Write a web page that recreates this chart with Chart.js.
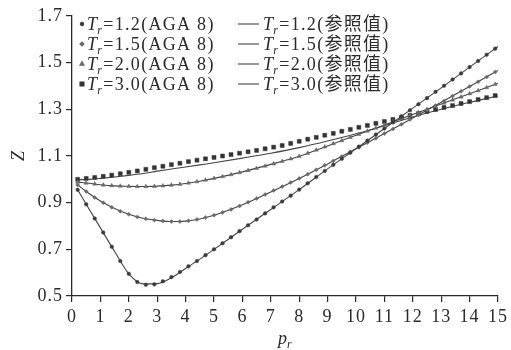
<!DOCTYPE html>
<html>
<head>
<meta charset="utf-8">
<script src="https://cdn.jsdelivr.net/npm/chart.js@4.4.1/dist/chart.umd.min.js"></script>
<style>
html,body{margin:0;padding:0;background:#fff;}
canvas{display:block;}
</style>
</head>
<body>
<canvas id="grafica" width="511" height="350"></canvas>
<script>
// p_r de los puntos AGA 8
const presion = [0.2,0.5,0.8,1.1,1.4,1.7,2.0,2.3,2.6,2.9,3.2,3.5,3.8,4.1,4.4,4.7,5.0,5.3,5.6,5.9,
  6.2,6.5,6.8,7.1,7.4,7.7,8.0,8.3,8.6,8.9,9.2,9.5,9.8,10.1,10.4,10.7,11.0,11.3,11.6,11.9,
  12.2,12.5,12.8,13.1,13.4,13.7,14.0,14.3,14.6,14.9];
const zAga12 = [0.955,0.893,0.832,0.772,0.711,0.650,0.595,0.560,0.548,0.550,0.563,0.581,0.603,0.627,0.650,0.675,0.700,0.726,0.752,0.778,
  0.803,0.828,0.854,0.880,0.905,0.930,0.956,0.983,1.010,1.036,1.062,1.088,1.114,1.140,1.166,1.192,1.218,1.244,1.270,1.296,
  1.322,1.348,1.375,1.401,1.428,1.454,1.481,1.507,1.534,1.560];
const zAga15 = [0.976,0.948,0.922,0.900,0.880,0.863,0.850,0.839,0.831,0.825,0.821,0.819,0.819,0.822,0.828,0.836,0.846,0.858,0.871,0.886,
  0.902,0.918,0.935,0.952,0.969,0.986,1.004,1.022,1.041,1.060,1.079,1.098,1.118,1.137,1.157,1.176,1.196,1.216,1.236,1.256,
  1.276,1.296,1.316,1.336,1.357,1.377,1.398,1.418,1.439,1.460];
const zAga20 = [0.988,0.984,0.980,0.976,0.973,0.971,0.970,0.969,0.969,0.970,0.972,0.975,0.979,0.984,0.990,0.997,1.004,1.012,1.020,1.029,
  1.038,1.047,1.057,1.067,1.077,1.088,1.099,1.112,1.126,1.139,1.153,1.166,1.180,1.193,1.207,1.220,1.233,1.247,1.260,1.273,
  1.287,1.300,1.313,1.327,1.340,1.353,1.367,1.380,1.393,1.407];
const zAga30 = [1.000,1.004,1.008,1.013,1.018,1.024,1.030,1.036,1.043,1.050,1.056,1.063,1.069,1.076,1.082,1.088,1.094,1.100,1.106,1.112,
  1.118,1.124,1.131,1.138,1.145,1.154,1.163,1.172,1.180,1.189,1.197,1.206,1.214,1.223,1.231,1.240,1.248,1.257,1.265,1.274,
  1.282,1.291,1.299,1.308,1.316,1.325,1.333,1.342,1.350,1.359];

// curvas de referencia (参照值)
const presionRef = [0.2,0.6,1,1.5,2,2.5,3,3.5,4,4.5,5,6,7,8,9,10,11,12,13,14,15];
const zRef12 = [0.955,0.873,0.792,0.691,0.595,0.552,0.553,0.578,0.618,0.658,0.700,0.786,0.871,0.956,1.045,1.131,1.218,1.305,1.392,1.481,1.569];
const zRef15 = [0.976,0.939,0.907,0.875,0.850,0.833,0.824,0.819,0.821,0.830,0.846,0.891,0.946,1.004,1.066,1.131,1.196,1.263,1.330,1.398,1.467];
const zRef20 = [0.988,0.983,0.977,0.972,0.970,0.969,0.971,0.975,0.982,0.992,1.004,1.032,1.064,1.099,1.143,1.189,1.233,1.278,1.323,1.367,1.412];
const zRef30 = [0.998,1.000,1.004,1.010,1.017,1.025,1.035,1.044,1.053,1.062,1.071,1.091,1.112,1.136,1.164,1.195,1.230,1.267,1.300,1.330,1.357];

const temperaturas = ['1.2','1.5','2.0','3.0'];
const xTicks = [0,1,2,3,4,5,6,7,8,9,10,11,12,13,14,15];
const yTicks = [0.5,0.7,0.9,1.1,1.3,1.5,1.7];

const fuente = '"Liberation Serif", "Times New Roman", serif';
const fuenteCJK = '"Liberation Serif", "Noto Sans CJK SC", serif';
const tinta = '#2a2a2a';

function puntos(xs, ys) {
  return xs.map(function (x, i) { return { x: x, y: ys[i] }; });
}

const marcas = [
  { datos: zAga12, estilo: 'circle', radio: 1.8, color: '#3a3a3a' },
  { datos: zAga15, estilo: 'rectRot', radio: 2.0, color: '#6a6a6a' },
  { datos: zAga20, estilo: 'triangle', radio: 2.4, color: '#6a6a6a' },
  { datos: zAga30, estilo: 'rect', radio: 2.8, color: '#333333' }
];
const lineas = [zRef12, zRef15, zRef20, zRef30];

const datasets = [];
marcas.forEach(function (m) {
  datasets.push({
    data: puntos(presion, m.datos),
    showLine: false,
    pointStyle: m.estilo,
    pointRadius: m.radio,
    pointBackgroundColor: m.color,
    pointBorderColor: m.color,
    pointBorderWidth: 0.5
  });
});
lineas.forEach(function (z) {
  datasets.push({
    data: puntos(presionRef, z),
    showLine: true,
    borderColor: '#444',
    borderWidth: 1.1,
    pointRadius: 0,
    cubicInterpolationMode: 'monotone'
  });
});

function textoTr(ctx, x, y, valor, resto) {
  ctx.textAlign = 'left';
  ctx.textBaseline = 'alphabetic';
  ctx.font = 'italic 18px ' + fuente;
  ctx.fillText('T', x, y);
  x += ctx.measureText('T').width - 1;
  ctx.font = 'italic 12px ' + fuente;
  ctx.fillText('r', x, y + 4);
  x += ctx.measureText('r').width;
  ctx.font = '18px ' + fuenteCJK;
  ctx.fillText('=' + valor + resto, x, y);
}

const leyendaYTitulos = {
  id: 'leyendaYTitulos',
  beforeDraw: function (chart) {
    // numeros de los ejes algo espaciados, como en la figura
    chart.ctx.letterSpacing = '1px';
  },
  afterDraw: function (chart) {
    const ctx = chart.ctx;
    ctx.save();
    ctx.fillStyle = tinta;
    ctx.strokeStyle = tinta;
    ctx.letterSpacing = '1.3px';
    temperaturas.forEach(function (t, i) {
      const base = 30 + i * 20;
      const m = marcas[i];
      ctx.fillStyle = m.color;
      ctx.strokeStyle = m.color;
      Chart.helpers.drawPoint(ctx, { pointStyle: m.estilo, radius: m.radio, rotation: 0, borderWidth: 0.5 }, 82, base - 6);
      ctx.fillStyle = tinta;
      textoTr(ctx, 87, base, t, '(AGA 8)');
      ctx.strokeStyle = '#444';
      ctx.lineWidth = 1.1;
      ctx.beginPath();
      ctx.moveTo(238, base - 6);
      ctx.lineTo(259, base - 6);
      ctx.stroke();
      textoTr(ctx, 263, base, t, '(参照值)');
    });
    // titulos de ejes
    ctx.letterSpacing = '0px';
    ctx.fillStyle = tinta;
    ctx.save();
    ctx.translate(19, 156);
    ctx.rotate(-Math.PI / 2);
    ctx.textAlign = 'center';
    ctx.textBaseline = 'middle';
    ctx.font = 'italic 18px ' + fuente;
    ctx.fillText('Z', 0, 0);
    ctx.restore();
    ctx.textAlign = 'left';
    ctx.textBaseline = 'alphabetic';
    ctx.font = 'italic 18px ' + fuente;
    ctx.fillText('p', 278, 344);
    const w = ctx.measureText('p').width;
    ctx.font = 'italic 12px ' + fuente;
    ctx.fillText('r', 278 + w, 348);
    ctx.restore();
  }
};

const grafico = new Chart(document.getElementById('grafica'), {
  type: 'scatter',
  data: { datasets: datasets },
  options: {
    responsive: false,
    devicePixelRatio: 1,
    animation: false,
    layout: { padding: { top: 16, right: 11, left: 0, bottom: 0 } },
    plugins: { legend: { display: false }, tooltip: { enabled: false } },
    scales: {
      x: {
        type: 'linear',
        min: 0,
        max: 15,
        afterBuildTicks: function (s) { s.ticks = xTicks.map(function (v) { return { value: v }; }); },
        afterFit: function (s) { s.height = 54; },
        border: { color: tinta, width: 1.3 },
        grid: { drawOnChartArea: false, color: tinta, tickLength: 6, lineWidth: 1.2 },
        ticks: { color: tinta, font: { family: fuente, size: 18 }, padding: 4, maxRotation: 0, autoSkip: false,
          callback: function (v) { return String(v); } }
      },
      y: {
        type: 'linear',
        min: 0.5,
        max: 1.7,
        afterBuildTicks: function (s) { s.ticks = yTicks.map(function (v) { return { value: v }; }); },
        afterFit: function (s) { s.width = 72; },
        border: { color: tinta, width: 1.3 },
        grid: { drawOnChartArea: false, color: tinta, tickLength: 6, lineWidth: 1.2 },
        ticks: { color: tinta, font: { family: fuente, size: 18 }, padding: 3, autoSkip: false,
          callback: function (v) { return Number(v).toFixed(1); } }
      }
    }
  },
  plugins: [leyendaYTitulos]
});
</script>
</body>
</html>
